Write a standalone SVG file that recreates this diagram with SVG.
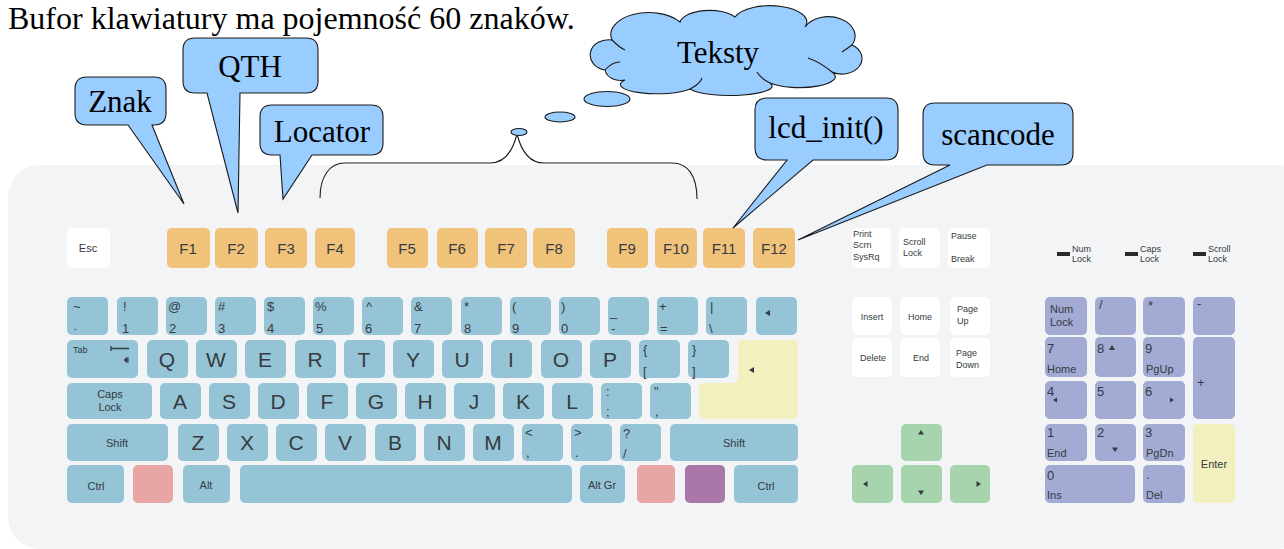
<svg xmlns="http://www.w3.org/2000/svg" width="1284" height="549" viewBox="0 0 1284 549">
<style>
.bg{fill:#f3f4f6}
.k{fill:#95c4d6}
.fk{fill:#f0c27a}
.wk{fill:#ffffff}
.gk{fill:#a6d4ac}
.nk{fill:#a3aad4}
.yk{fill:#f2f0be}
.rk{fill:#e9a5a3}
.pk{fill:#a978a9}
.t{font-family:"Liberation Sans",Arial,sans-serif;fill:#353b40}
.L{font-size:21px;text-anchor:middle}
.F{font-size:15px;text-anchor:middle}
.s{font-size:13px}
.m{font-size:11px}
.c{text-anchor:middle}
.xs{font-size:9px}
.co{fill:#99ccff;stroke:#1a1a1a;stroke-width:1.1}
.ct{font-family:"Liberation Serif","Times New Roman",serif;font-size:31px;fill:#000;text-anchor:middle}
.br{fill:none;stroke:#1a1a1a;stroke-width:1.1}
</style>
<defs>
<path id="al" d="M0,0 L5,-3 V3 Z"/>
</defs>
<text x="8" y="29" font-family="Liberation Serif,'Times New Roman',serif" font-size="32" fill="#000">Bufor klawiatury ma pojemność 60 znaków.</text>
<rect class="bg" x="8" y="165" width="1300" height="384" rx="32"/>
<g id="fkeys">
<rect class="wk" x="67" y="228" width="43" height="40" rx="5"/><text class="t m c" x="88" y="252">Esc</text>
<rect class="fk" x="167" y="228" width="43" height="40" rx="5"/><text class="t F" x="188" y="254">F1</text>
<rect class="fk" x="215" y="228" width="43" height="40" rx="5"/><text class="t F" x="236" y="254">F2</text>
<rect class="fk" x="265" y="228" width="42" height="40" rx="5"/><text class="t F" x="286" y="254">F3</text>
<rect class="fk" x="315" y="228" width="40" height="40" rx="5"/><text class="t F" x="335" y="254">F4</text>
<rect class="fk" x="387" y="228" width="41" height="40" rx="5"/><text class="t F" x="407" y="254">F5</text>
<rect class="fk" x="437" y="228" width="41" height="40" rx="5"/><text class="t F" x="457" y="254">F6</text>
<rect class="fk" x="485" y="228" width="42" height="40" rx="5"/><text class="t F" x="506" y="254">F7</text>
<rect class="fk" x="533" y="228" width="42" height="40" rx="5"/><text class="t F" x="554" y="254">F8</text>
<rect class="fk" x="607" y="228" width="41" height="40" rx="5"/><text class="t F" x="627" y="254">F9</text>
<rect class="fk" x="655" y="228" width="42" height="40" rx="5"/><text class="t F" x="676" y="254">F10</text>
<rect class="fk" x="703" y="228" width="42" height="40" rx="5"/><text class="t F" x="724" y="254">F11</text>
<rect class="fk" x="753" y="228" width="42" height="40" rx="5"/><text class="t F" x="774" y="254">F12</text>
</g>
<g id="row1">
<rect class="k" x="67" y="297" width="41" height="38" rx="5"/><text class="t s" x="73" y="311">~</text><text class="t s" x="73" y="333">·</text>
<rect class="k" x="117" y="297" width="41" height="38" rx="5"/><text class="t s" x="123" y="311">!</text><text class="t s" x="122" y="333">1</text>
<rect class="k" x="166" y="297" width="41" height="38" rx="5"/><text class="t s" x="168" y="311">@</text><text class="t s" x="169" y="333">2</text>
<rect class="k" x="215" y="297" width="41" height="38" rx="5"/><text class="t s" x="218" y="311">#</text><text class="t s" x="218" y="333">3</text>
<rect class="k" x="264" y="297" width="41" height="38" rx="5"/><text class="t s" x="267" y="311">$</text><text class="t s" x="267" y="333">4</text>
<rect class="k" x="313" y="297" width="41" height="38" rx="5"/><text class="t s" x="315" y="311">%</text><text class="t s" x="316" y="333">5</text>
<rect class="k" x="362" y="297" width="41" height="38" rx="5"/><text class="t s" x="366" y="311">^</text><text class="t s" x="365" y="333">6</text>
<rect class="k" x="411" y="297" width="41" height="38" rx="5"/><text class="t s" x="414" y="311">&amp;</text><text class="t s" x="414" y="333">7</text>
<rect class="k" x="461" y="297" width="41" height="38" rx="5"/><text class="t s" x="464" y="311">*</text><text class="t s" x="464" y="333">8</text>
<rect class="k" x="510" y="297" width="41" height="38" rx="5"/><text class="t s" x="512" y="311">(</text><text class="t s" x="512" y="333">9</text>
<rect class="k" x="559" y="297" width="41" height="38" rx="5"/><text class="t s" x="561" y="311">)</text><text class="t s" x="561" y="333">0</text>
<rect class="k" x="608" y="297" width="41" height="38" rx="5"/><text class="t s" x="610" y="316">_</text><text class="t s" x="611" y="333">-</text>
<rect class="k" x="657" y="297" width="41" height="38" rx="5"/><text class="t s" x="659" y="311">+</text><text class="t s" x="660" y="333">=</text>
<rect class="k" x="706" y="297" width="41" height="38" rx="5"/><text class="t s" x="710" y="311">|</text><text class="t s" x="709" y="333">\</text>
<rect class="k" x="756" y="297" width="41" height="38" rx="5"/><use href="#al" x="765" y="313" fill="#353b40"/>
</g>
<g id="row2">
<rect class="k" x="67" y="340" width="71" height="38" rx="5"/><text class="t xs" x="73" y="353">Tab</text>
<path d="M111,348.5 H129 M111,346 V351" stroke="#353b40" stroke-width="1.3" fill="none"/><path d="M124,360 L127,357.5 V362.5 Z M128,357 V363" stroke="#353b40" stroke-width="1" fill="#353b40"/>
<rect class="k" x="147" y="340" width="41" height="38" rx="5"/><text class="t L" x="167" y="367">Q</text>
<rect class="k" x="196" y="340" width="41" height="38" rx="5"/><text class="t L" x="216" y="367">W</text>
<rect class="k" x="245" y="340" width="41" height="38" rx="5"/><text class="t L" x="265" y="367">E</text>
<rect class="k" x="295" y="340" width="41" height="38" rx="5"/><text class="t L" x="315" y="367">R</text>
<rect class="k" x="344" y="340" width="41" height="38" rx="5"/><text class="t L" x="364" y="367">T</text>
<rect class="k" x="393" y="340" width="41" height="38" rx="5"/><text class="t L" x="413" y="367">Y</text>
<rect class="k" x="442" y="340" width="41" height="38" rx="5"/><text class="t L" x="462" y="367">U</text>
<rect class="k" x="491" y="340" width="41" height="38" rx="5"/><text class="t L" x="511" y="367">I</text>
<rect class="k" x="541" y="340" width="41" height="38" rx="5"/><text class="t L" x="561" y="367">O</text>
<rect class="k" x="590" y="340" width="41" height="38" rx="5"/><text class="t L" x="610" y="367">P</text>
<rect class="k" x="639" y="340" width="41" height="38" rx="5"/><text class="t s" x="643" y="354">{</text><text class="t s" x="643" y="376">[</text>
<rect class="k" x="688" y="340" width="41" height="38" rx="5"/><text class="t s" x="692" y="354">}</text><text class="t s" x="692" y="376">]</text>
<path class="yk" d="M743,340 H793 Q798,340 798,345 V414 Q798,419 793,419 H704 Q699,419 699,414 V388 Q699,383 704,383 H733 Q738,383 738,378 V345 Q738,340 743,340 Z"/>
<use href="#al" x="749" y="370" fill="#353b40"/>
</g>
<g id="row3">
<rect class="k" x="67" y="383" width="85" height="36" rx="5"/><text class="t m c" x="110" y="398">Caps</text><text class="t m c" x="110" y="411">Lock</text>
<rect class="k" x="160" y="383" width="41" height="36" rx="5"/><text class="t L" x="180" y="409">A</text>
<rect class="k" x="209" y="383" width="41" height="36" rx="5"/><text class="t L" x="229" y="409">S</text>
<rect class="k" x="258" y="383" width="41" height="36" rx="5"/><text class="t L" x="278" y="409">D</text>
<rect class="k" x="307" y="383" width="41" height="36" rx="5"/><text class="t L" x="327" y="409">F</text>
<rect class="k" x="356" y="383" width="41" height="36" rx="5"/><text class="t L" x="376" y="409">G</text>
<rect class="k" x="405" y="383" width="41" height="36" rx="5"/><text class="t L" x="425" y="409">H</text>
<rect class="k" x="454" y="383" width="41" height="36" rx="5"/><text class="t L" x="474" y="409">J</text>
<rect class="k" x="503" y="383" width="41" height="36" rx="5"/><text class="t L" x="523" y="409">K</text>
<rect class="k" x="552" y="383" width="41" height="36" rx="5"/><text class="t L" x="572" y="409">L</text>
<rect class="k" x="601" y="383" width="41" height="36" rx="5"/><text class="t s" x="606" y="396">:</text><text class="t s" x="606" y="416">;</text>
<rect class="k" x="650" y="383" width="41" height="36" rx="5"/><text class="t s" x="654" y="396">"</text><text class="t s" x="655" y="416">,</text>
</g>
<g id="row4">
<rect class="k" x="67" y="424" width="101" height="37" rx="5"/><text class="t m c" x="117" y="447">Shift</text>
<rect class="k" x="178" y="424" width="41" height="37" rx="5"/><text class="t L" x="198" y="450">Z</text>
<rect class="k" x="227" y="424" width="41" height="37" rx="5"/><text class="t L" x="247" y="450">X</text>
<rect class="k" x="276" y="424" width="41" height="37" rx="5"/><text class="t L" x="296" y="450">C</text>
<rect class="k" x="325" y="424" width="41" height="37" rx="5"/><text class="t L" x="345" y="450">V</text>
<rect class="k" x="375" y="424" width="41" height="37" rx="5"/><text class="t L" x="395" y="450">B</text>
<rect class="k" x="424" y="424" width="41" height="37" rx="5"/><text class="t L" x="444" y="450">N</text>
<rect class="k" x="473" y="424" width="41" height="37" rx="5"/><text class="t L" x="493" y="450">M</text>
<rect class="k" x="522" y="424" width="41" height="37" rx="5"/><text class="t s" x="525" y="437">&lt;</text><text class="t s" x="526" y="457">,</text>
<rect class="k" x="571" y="424" width="41" height="37" rx="5"/><text class="t s" x="574" y="437">&gt;</text><text class="t s" x="575" y="457">.</text>
<rect class="k" x="620" y="424" width="41" height="37" rx="5"/><text class="t s" x="623" y="438">?</text><text class="t s" x="623" y="458">/</text>
<rect class="k" x="670" y="424" width="128" height="37" rx="5"/><text class="t m c" x="734" y="447">Shift</text>
</g>
<g id="row5">
<rect class="k" x="67" y="465" width="57" height="38" rx="5"/><text class="t m c" x="96" y="490">Ctrl</text>
<rect class="rk" x="133" y="465" width="40" height="38" rx="5"/>
<rect class="k" x="183" y="465" width="47" height="38" rx="5"/><text class="t m c" x="206" y="489">Alt</text>
<rect class="k" x="240" y="465" width="332" height="38" rx="5"/>
<rect class="k" x="580" y="465" width="45" height="38" rx="5"/><text class="t m c" x="602" y="489">Alt Gr</text>
<rect class="rk" x="637" y="465" width="38" height="38" rx="5"/>
<rect class="pk" x="685" y="465" width="40" height="38" rx="5"/>
<rect class="k" x="734" y="465" width="64" height="38" rx="5"/><text class="t m c" x="766" y="490">Ctrl</text>
</g>
<g id="nav">
<rect class="wk" x="852" y="228" width="39" height="40" rx="5"/><text class="t xs" x="853" y="237">Print</text><text class="t xs" x="853" y="248">Scrn</text><text class="t xs" x="853" y="260">SysRq</text>
<rect class="wk" x="899" y="228" width="41" height="40" rx="5"/><text class="t xs" x="903" y="245">Scroll</text><text class="t xs" x="903" y="256">Lock</text>
<rect class="wk" x="948" y="228" width="42" height="40" rx="5"/><text class="t xs" x="951" y="239">Pause</text><text class="t xs" x="951" y="262">Break</text>
<rect class="wk" x="852" y="297" width="40" height="38" rx="5"/><text class="t xs c" x="872" y="320">Insert</text>
<rect class="wk" x="900" y="297" width="40" height="38" rx="5"/><text class="t xs c" x="920" y="320">Home</text>
<rect class="wk" x="950" y="297" width="40" height="38" rx="5"/><text class="t xs" x="957" y="312">Page</text><text class="t xs" x="957" y="324">Up</text>
<rect class="wk" x="852" y="338" width="40" height="39" rx="5"/><text class="t xs c" x="873" y="361">Delete</text>
<rect class="wk" x="900" y="338" width="40" height="39" rx="5"/><text class="t xs c" x="921" y="361">End</text>
<rect class="wk" x="950" y="338" width="40" height="39" rx="5"/><text class="t xs" x="956" y="356">Page</text><text class="t xs" x="956" y="368">Down</text>
</g>
<g id="arrows">
<rect class="gk" x="901" y="424" width="41" height="37" rx="5"/><path d="M921,430 L924,434.5 H918 Z" fill="#353b40"/>
<rect class="gk" x="852" y="465" width="41" height="38" rx="5"/><path d="M863,484 L867.5,481 V487 Z" fill="#353b40"/>
<rect class="gk" x="901" y="465" width="41" height="38" rx="5"/><path d="M921,495 L924,490.5 H918 Z" fill="#353b40"/>
<rect class="gk" x="950" y="465" width="40" height="38" rx="5"/><path d="M981,484 L976.5,481 V487 Z" fill="#353b40"/>
</g>
<g id="leds">
<rect x="1057" y="252" width="13" height="4" fill="#2a2a2a"/><text class="t xs" x="1072" y="252" font-size="8">Num</text><text class="t xs" x="1072" y="262" font-size="8">Lock</text>
<rect x="1125" y="252" width="13" height="4" fill="#2a2a2a"/><text class="t xs" x="1140" y="252" font-size="8">Caps</text><text class="t xs" x="1140" y="262" font-size="8">Lock</text>
<rect x="1193" y="252" width="13" height="4" fill="#2a2a2a"/><text class="t xs" x="1208" y="252" font-size="8">Scroll</text><text class="t xs" x="1208" y="262" font-size="8">Lock</text>
</g>
<g id="numpad">
<rect class="nk" x="1045" y="297" width="42" height="38" rx="5"/><text class="t m" x="1050" y="313">Num</text><text class="t m" x="1050" y="326">Lock</text>
<rect class="nk" x="1095" y="297" width="41" height="38" rx="5"/><text class="t s" x="1099" y="309">/</text>
<rect class="nk" x="1143" y="297" width="42" height="38" rx="5"/><text class="t s" x="1148" y="310">*</text>
<rect class="nk" x="1193" y="297" width="42" height="38" rx="5"/><text class="t s" x="1197" y="308">-</text>
<rect class="nk" x="1045" y="337" width="42" height="40" rx="5"/><text class="t s" x="1047" y="353">7</text><text class="t m" x="1047" y="373">Home</text>
<rect class="nk" x="1095" y="337" width="41" height="40" rx="5"/><text class="t s" x="1097" y="353">8</text><path d="M1112,345 L1115,350 H1109 Z" fill="#353b40"/>
<rect class="nk" x="1143" y="337" width="42" height="40" rx="5"/><text class="t s" x="1145" y="353">9</text><text class="t m" x="1146" y="373">PgUp</text>
<rect class="nk" x="1193" y="337" width="42" height="82" rx="5"/><text class="t s" x="1197" y="387">+</text>
<rect class="nk" x="1045" y="381" width="42" height="38" rx="5"/><text class="t s" x="1047" y="396">4</text><path d="M1053,400 L1057,397.5 V402.5 Z" fill="#353b40"/>
<rect class="nk" x="1095" y="381" width="41" height="38" rx="5"/><text class="t s" x="1097" y="396">5</text>
<rect class="nk" x="1143" y="381" width="42" height="38" rx="5"/><text class="t s" x="1145" y="396">6</text><path d="M1174,400 L1170,397.5 V402.5 Z" fill="#353b40"/>
<rect class="nk" x="1045" y="424" width="42" height="37" rx="5"/><text class="t s" x="1047" y="437">1</text><text class="t m" x="1047" y="457">End</text>
<rect class="nk" x="1095" y="424" width="41" height="37" rx="5"/><text class="t s" x="1097" y="437">2</text><path d="M1115,452 L1118,447.5 H1112 Z" fill="#353b40"/>
<rect class="nk" x="1143" y="424" width="42" height="37" rx="5"/><text class="t s" x="1145" y="437">3</text><text class="t m" x="1146" y="457">PgDn</text>
<rect class="yk" x="1193" y="424" width="42" height="79" rx="5"/><text class="t m c" x="1214" y="468">Enter</text>
<rect class="nk" x="1045" y="465" width="90" height="38" rx="5"/><text class="t s" x="1047" y="480">0</text><text class="t m" x="1047" y="499">Ins</text>
<rect class="nk" x="1143" y="465" width="42" height="38" rx="5"/><text class="t s" x="1146" y="479">.</text><text class="t m" x="1146" y="499">Del</text>
</g>
<g id="connectors">
<path class="br" d="M320,198 C320,176 330,163 345,163 H490 C506,163 513,150 517,134 C521,150 528,163 544,163 H672 C688,163 697,176 697,199"/>
</g>
<g id="cloud">
<path class="co" d="M605,70 A18,15 0 0 1 612,40 A38,22 0 0 1 680,22 A30,14 0 0 1 735,17 A36,16 0 0 1 805,27 A22,16 0 0 1 852,45 A18,14 0 0 1 832,72 A36,11 0 0 1 770,83 A40,9 0 0 1 690,89 A36,9 0 0 1 625,80 A16,12 0 0 1 605,70 Z"/>
<path class="br" d="M612,40 Q620,48 625,50 M605,70 Q612,62 620,62 M690,89 Q700,84 702,78 M770,83 Q760,78 757,72 M832,72 Q820,62 808,58 M852,45 Q848,48 842,52"/>
<text class="ct" x="718" y="63">Teksty</text>
<ellipse class="co" cx="607" cy="99" rx="23" ry="7.5"/>
<ellipse class="co" cx="560" cy="117" rx="15" ry="5"/>
<ellipse class="co" cx="519" cy="132" rx="8" ry="3.5"/>
</g>
<g id="znak">
<path class="co" d="M87,77 H154 Q166,77 166,89 V113 Q166,125 154,125 H152 L184,204 L128,125 H87 Q75,125 75,113 V89 Q75,77 87,77 Z"/>
<text class="ct" x="120" y="112">Znak</text>
</g>
<g id="qth">
<path class="co" d="M195,38 H306 Q318,38 318,50 V81 Q318,93 306,93 H240 L238,213 L207,93 H195 Q183,93 183,81 V50 Q183,38 195,38 Z"/>
<text class="ct" x="250" y="77">QTH</text>
</g>
<g id="locator">
<path class="co" d="M272,105 H371 Q383,105 383,117 V143 Q383,155 371,155 H312 L283,199 L280,155 H272 Q260,155 260,143 V117 Q260,105 272,105 Z"/>
<text class="ct" x="322" y="142">Locator</text>
</g>
<g id="lcd">
<path class="co" d="M767,98 H886 Q898,98 898,110 V148 Q898,160 886,160 H813 L733,228 L787,160 H767 Q755,160 755,148 V110 Q755,98 767,98 Z"/>
<text class="ct" x="826" y="138">lcd_init()</text>
</g>
<g id="scancode">
<path class="co" d="M935,103 H1061 Q1073,103 1073,115 V153 Q1073,165 1061,165 H987 L798,240 L950,165 H935 Q923,165 923,153 V115 Q923,103 935,103 Z"/>
<text class="ct" x="998" y="145">scancode</text>
</g>
</svg>
